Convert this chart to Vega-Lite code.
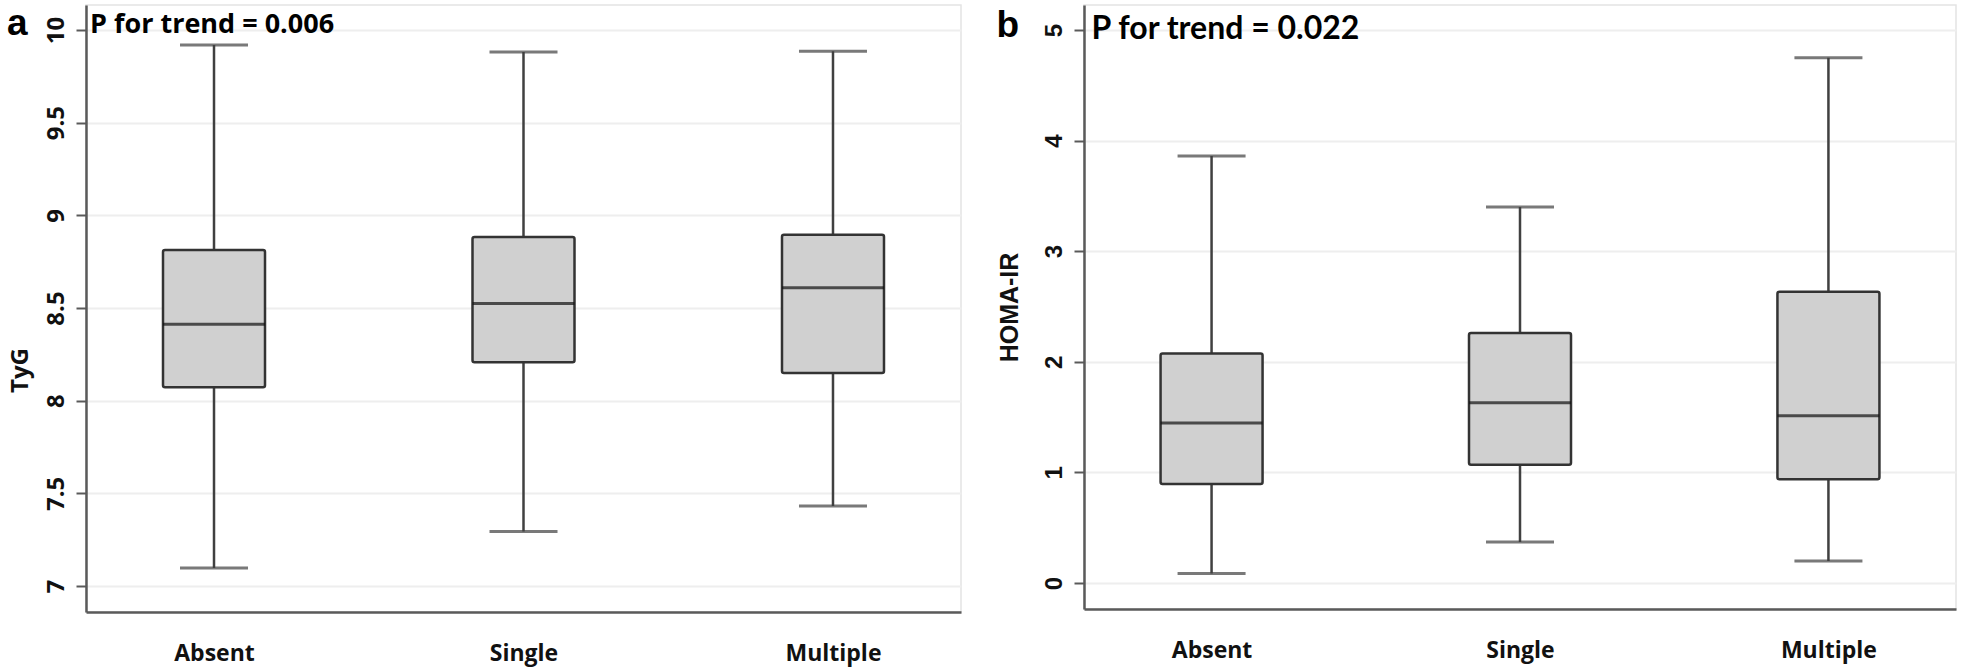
{
  "$schema": "https://vega.github.io/schema/vega-lite/v6.json",
  "autosize": {"type": "none"},
  "padding": {"left": 86, "top": 5, "right": 1875, "bottom": 666},
  "background": "white",
  "bounds": "flush",
  "spacing": 123,
  "config": {
    "view": {"stroke": "#e4e4e4", "strokeWidth": 1.5},
    "axis": {"domainColor": "#5a5a5a", "domainWidth": 2.5, "gridColor": "#eeeeee", "gridWidth": 2, "labelColor": "#111111", "titleColor": "#111111", "tickColor": "#5a5a5a", "tickWidth": 2}
  },
  "datasets": {
    "tyg": [
      {"group": "Absent", "min": 7.097, "q1": 8.073, "median": 8.413, "q3": 8.813, "max": 9.919},
      {"group": "Single", "min": 7.294, "q1": 8.208, "median": 8.525, "q3": 8.883, "max": 9.882},
      {"group": "Multiple", "min": 7.432, "q1": 8.150, "median": 8.610, "q3": 8.895, "max": 9.886}
    ],
    "homa": [
      {"group": "Absent", "min": 0.085, "q1": 0.895, "median": 1.447, "q3": 2.075, "max": 3.86},
      {"group": "Single", "min": 0.37, "q1": 1.07, "median": 1.63, "q3": 2.26, "max": 3.40},
      {"group": "Multiple", "min": 0.20, "q1": 0.937, "median": 1.513, "q3": 2.634, "max": 4.75}
    ]
  },
  "hconcat": [
    {
      "width": 875,
      "height": 607,
      "data": {"name": "tyg"},
      "encoding": {
        "x": {"field": "group", "type": "nominal", "sort": ["Absent", "Single", "Multiple"], "scale": {"type": "point", "padding": 0.4136}, "axis": {"title": null, "labelAngle": 0, "ticks": false, "labelPadding": 30, "labelFontSize": 23, "labelFont": "Open Sans", "labelFontWeight": "bold", "grid": false}}
      },
      "layer": [
        {
          "mark": {"type": "rule", "color": "#404040", "strokeWidth": 2.5},
          "encoding": {
            "y": {"field": "min", "type": "quantitative", "scale": {"domain": [6.86, 10.135], "nice": false, "zero": false}, "axis": {"title": "TyG", "values": [7, 7.5, 8, 8.5, 9, 9.5, 10], "format": "~g", "labelAngle": -90, "labelAlign": "center", "labelBaseline": "bottom", "labelPadding": 8, "tickSize": 10, "labelFontSize": 24, "labelFont": "Open Sans", "labelFontWeight": "bold", "titleFontSize": 24, "titleFont": "Open Sans", "titleFontWeight": "bold", "titlePadding": 12, "titleY": 365, "grid": true}},
            "y2": {"field": "max"}
          }
        },
        {
          "mark": {"type": "tick", "color": "#404040", "size": 68, "thickness": 3},
          "encoding": {"y": {"field": "min", "type": "quantitative"}}
        },
        {
          "mark": {"type": "tick", "color": "#404040", "size": 68, "thickness": 3},
          "encoding": {"y": {"field": "max", "type": "quantitative"}}
        },
        {
          "mark": {"type": "bar", "width": 102, "fill": "#d0d0d0", "stroke": "#333333", "strokeWidth": 2.5, "cornerRadius": 2},
          "encoding": {"y": {"field": "q1", "type": "quantitative"}, "y2": {"field": "q3"}}
        },
        {
          "mark": {"type": "tick", "color": "#111111", "size": 102, "thickness": 3},
          "encoding": {"y": {"field": "median", "type": "quantitative"}}
        },
        {
          "data": {"values": [{"label": "P for trend = 0.006"}]},
          "mark": {"type": "text", "align": "left", "baseline": "alphabetic", "dx": -124, "dy": 3, "fontSize": 27, "font": "Open Sans", "fontWeight": "bold", "color": "#000000"},
          "encoding": {"x": {"datum": "Absent"}, "y": {"datum": 10}, "text": {"field": "label"}}
        },
        {
          "data": {"values": [{"label": "a"}]},
          "mark": {"type": "text", "align": "left", "baseline": "alphabetic", "dx": -207, "dy": 5, "fontSize": 37, "font": "Liberation Sans", "fontWeight": "bold", "color": "#000000"},
          "encoding": {"x": {"datum": "Absent"}, "y": {"datum": 10}, "text": {"field": "label"}}
        }
      ]
    },
    {
      "width": 872,
      "height": 604,
      "data": {"name": "homa"},
      "encoding": {
        "x": {"field": "group", "type": "nominal", "sort": ["Absent", "Single", "Multiple"], "scale": {"type": "point", "padding": 0.4136}, "axis": {"title": null, "labelAngle": 0, "ticks": false, "labelPadding": 30, "labelFontSize": 23, "labelFont": "Open Sans", "labelFontWeight": "bold", "grid": false}}
      },
      "layer": [
        {
          "mark": {"type": "rule", "color": "#404040", "strokeWidth": 2.5},
          "encoding": {
            "y": {"field": "min", "type": "quantitative", "scale": {"domain": [-0.235, 5.226], "nice": false, "zero": false}, "axis": {"title": "HOMA-IR", "values": [0, 1, 2, 3, 4, 5], "format": "~g", "labelAngle": -90, "labelAlign": "center", "labelBaseline": "bottom", "labelPadding": 8, "tickSize": 10, "labelFontSize": 24, "labelFont": "Liberation Sans", "labelFontWeight": "bold", "titleFontSize": 25, "titleFont": "Liberation Sans", "titleFontWeight": "bold", "titlePadding": 20, "grid": true}},
            "y2": {"field": "max"}
          }
        },
        {
          "mark": {"type": "tick", "color": "#404040", "size": 68, "thickness": 3},
          "encoding": {"y": {"field": "min", "type": "quantitative"}}
        },
        {
          "mark": {"type": "tick", "color": "#404040", "size": 68, "thickness": 3},
          "encoding": {"y": {"field": "max", "type": "quantitative"}}
        },
        {
          "mark": {"type": "bar", "width": 102, "fill": "#d0d0d0", "stroke": "#333333", "strokeWidth": 2.5, "cornerRadius": 2},
          "encoding": {"y": {"field": "q1", "type": "quantitative"}, "y2": {"field": "q3"}}
        },
        {
          "mark": {"type": "tick", "color": "#111111", "size": 102, "thickness": 3},
          "encoding": {"y": {"field": "median", "type": "quantitative"}}
        },
        {
          "data": {"values": [{"label": "P for trend = 0.022"}]},
          "mark": {"type": "text", "align": "left", "baseline": "alphabetic", "dx": -120, "dy": 9, "fontSize": 32, "font": "Lato", "fontWeight": "bold", "color": "#000000"},
          "encoding": {"x": {"datum": "Absent"}, "y": {"datum": 5}, "text": {"field": "label"}}
        },
        {
          "data": {"values": [{"label": "b"}]},
          "mark": {"type": "text", "align": "left", "baseline": "alphabetic", "dx": -215, "dy": 7, "fontSize": 37, "font": "Liberation Sans", "fontWeight": "bold", "color": "#000000"},
          "encoding": {"x": {"datum": "Absent"}, "y": {"datum": 5}, "text": {"field": "label"}}
        }
      ]
    }
  ]
}
